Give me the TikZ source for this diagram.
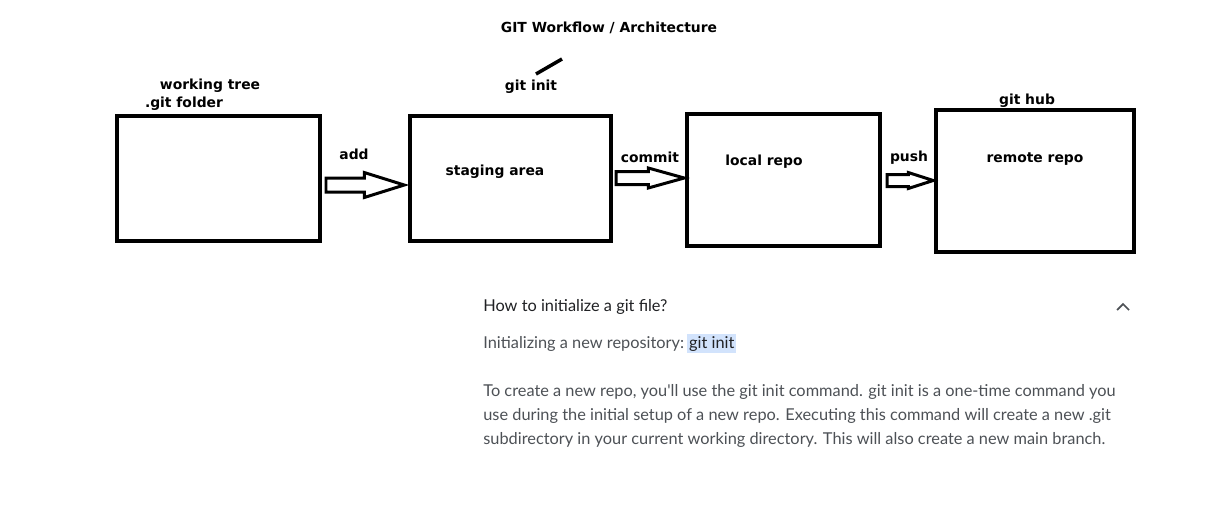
\documentclass[tikz,border=0pt]{standalone}
\usepackage{fontspec}
\setmainfont{DejaVu Sans}
\newfontfamily\bodyfont{Lato}
\usetikzlibrary{calc}

\definecolor{bodygray}{HTML}{4D5156}
\definecolor{headgray}{HTML}{202124}
\definecolor{hlblue}{HTML}{D2E3FC}

\tikzset{
    box/.style={draw, line width=2pt, inner sep=0pt},
    lbl/.style={font=\bfseries\fontsize{7.9}{9}\selectfont, inner sep=0pt},
    blockline/.style={line width=1.7pt, line join=miter},
    body/.style={font=\bodyfont\fontsize{9.3}{13.6}\selectfont, text=bodygray,
        inner sep=0pt, anchor=base west}
}

% hollow block arrow: tail, tip, shaft half width, head half width, head length
\newcommand{\hollowarrow}[5]{
    \draw [blockline]
        ($(#1)+(0,-#3)$) -- ($(#2)+(-#5,-#3)$) -- ($(#2)+(-#5,-#4)$) -- (#2)
        -- ($(#2)+(-#5,#4)$) -- ($(#2)+(-#5,#3)$) -- ($(#1)+(0,#3)$) -- cycle;
}

\begin{document}
\begin{tikzpicture}[x=0.02cm, y=-0.02cm]
            \useasboundingbox [fill=white] (0,0) rectangle (1207,505);

            % the four areas
            \node(worktree) [box, minimum width=4.06cm, minimum height=2.5cm] at (218.5,178.5) {};
            \node(staging) [box, minimum width=4.02cm, minimum height=2.5cm] at (510.5,178.5) {};
            \node(localrepo) [box, minimum width=3.86cm, minimum height=2.64cm] at (783.5,180) {};
            \node(remoterepo) [box, minimum width=3.96cm, minimum height=2.84cm] at (1035,181) {};

            % labels
            \node(title) [lbl] at (609,28) {GIT Workflow / Architecture};
            \node(initlbl) [lbl] at (531,87) {git init};
            \node(treelbl) [lbl] at (210,86) {working tree};
            \node(gitdirlbl) [lbl] at (184,104) {.git folder};
            \node(addlbl) [lbl] at (354,154) {add};
            \node(staginglbl) [lbl] at (495,172) {staging area};
            \node(commitlbl) [lbl] at (650,157) {commit};
            \node(locallbl) [lbl] at (764,162) {local repo};
            \node(pushlbl) [lbl] at (909,158) {push};
            \node(hublbl) [lbl] at (1027,101) {git hub};
            \node(remotelbl) [lbl] at (1035,159) {remote repo};

            \coordinate(slashlo) at (536,74);
            \coordinate(slashhi) at (562,59);
            \draw [line width=2pt] (slashlo) -- (slashhi);

            % arrows between the areas
            \coordinate(addtail) at (326,185);
            \coordinate(addtip) at ($(addtail -| staging.west)+(-4,0)$);
            \hollowarrow{addtail}{addtip}{7}{12.5}{40}

            \coordinate(committail) at (616,178);
            \coordinate(committip) at ($(committail -| localrepo.west)+(-1,0)$);
            \hollowarrow{committail}{committip}{6.5}{10}{36}

            \coordinate(pushtail) at (887,180.5);
            \coordinate(pushtip) at ($(pushtail -| remoterepo.west)+(-1,0)$);
            \hollowarrow{pushtail}{pushtip}{6}{8}{25}

            % text below
            \node(question) [body, text=headgray] at (483,311) {How to initialize a git file?};
            \draw [bodygray, line width=1pt] (1117,310) -- (1123,304) -- (1129,310);
            \node(initline) [body] at (483,348) {Initializing a new repository:\ };
            \node(initcmd) [body, fill=hlblue, text=headgray, inner xsep=1pt,
                text height=8.2pt, text depth=2.6pt] at ([xshift=1.5pt]initline.base east) {git init};
            \node(para) [body, align=left] at (483,444) {To create a new repo, you'll use the git init command. git init is a one-time command you\\
                use during the initial setup of a new repo. Executing this command will create a new .git\\
                subdirectory in your current working directory. This will also create a new main branch.};

        \end{tikzpicture}
\end{document}
